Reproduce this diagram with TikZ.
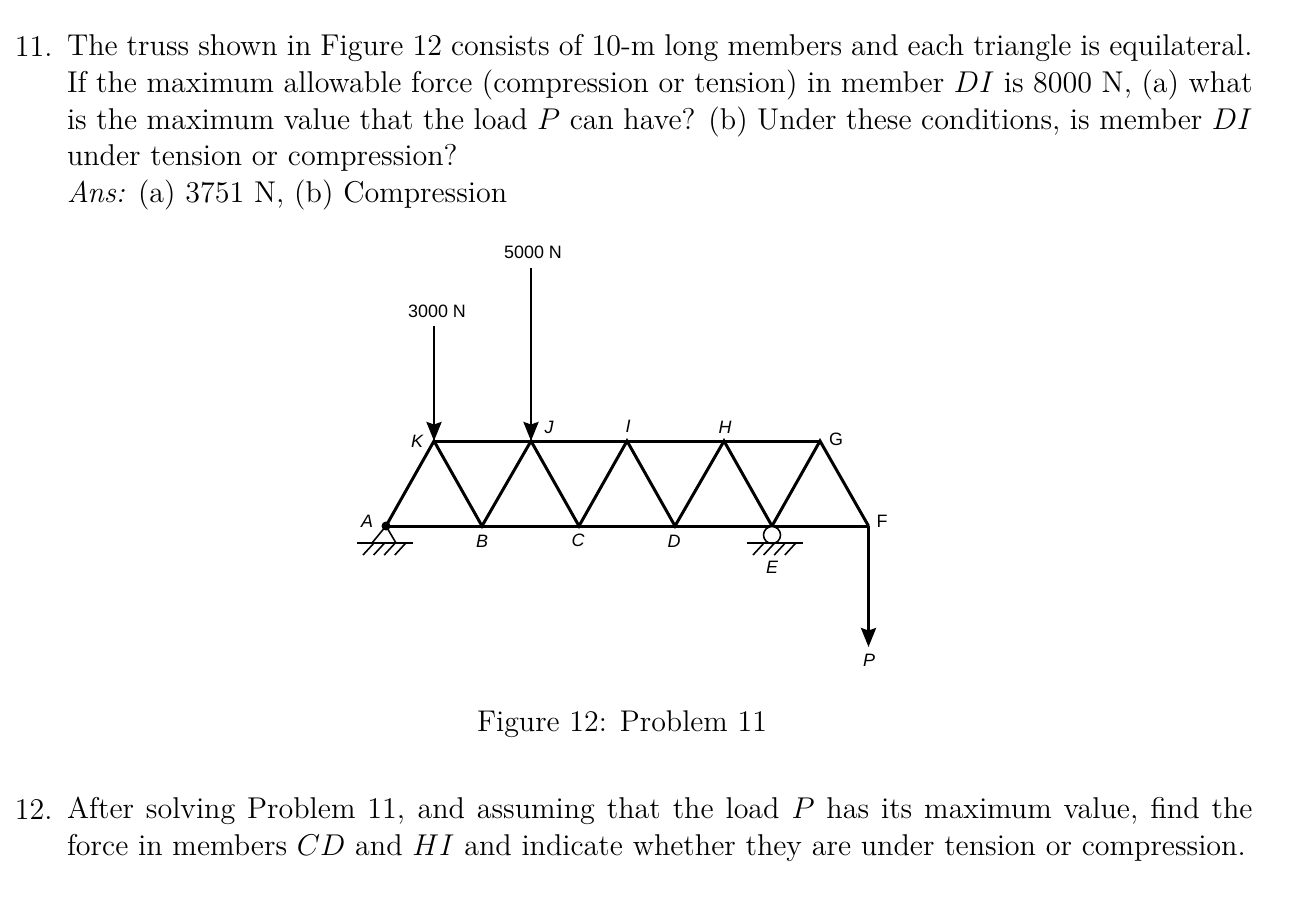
\documentclass[tikz,border=0pt]{standalone}
\usepackage{fontspec}
\usetikzlibrary{arrows.meta}
\newfontfamily\labelfont{Liberation Sans}
\tikzset{
    member/.style={line width=1.7pt},
    force/.style={line width=1.6pt,-{Stealth[length=3.8mm,width=3mm,inset=0.5mm]}},
    ground/.style={line width=0.9pt},
    joint/.style={inner sep=0pt,font=\labelfont\itshape\fontsize{10.2}{12}\selectfont},
    load/.style={inner sep=0pt,font=\labelfont\fontsize{10.2}{12}\selectfont},
    para/.style={inner sep=0pt,anchor=north west,scale=1.426,transform shape,text width=16.63cm,align=justify,font=\fontsize{12}{14.64}\selectfont},
    itemno/.style={inner sep=0pt,anchor=base east,scale=1.426,transform shape,font=\fontsize{12}{14.64}\selectfont}
}
\begin{document}
\begin{tikzpicture}[x=0.02cm,y=-0.02cm]
    \useasboundingbox (0,0) rectangle (1290,910);

    % Draw the text of problem 11
    \node[itemno] (no11) at (53,56) {11.};
    \node[para] (text11) at (66.5,34) {The truss shown in Figure 12 consists of 10-m long members and each triangle is equilateral.
    If the maximum allowable force (compression or tension) in member $DI$ is 8000 N, (a) what
    is the maximum value that the load $P$ can have? (b) Under these conditions, is member $DI$
    under tension or compression?\\
    \textit{Ans:} (a) 3751 N, (b) Compression};

    % Draw the joints of the truss
    \coordinate (A) at (386,526);
    \coordinate (B) at (482,526);
    \coordinate (C) at (579,526);
    \coordinate (D) at (675,526);
    \coordinate (E) at (772,526);
    \coordinate (F) at (868.5,526);
    \coordinate (K) at (434,441);
    \coordinate (J) at (531,441);
    \coordinate (I) at (627,441);
    \coordinate (H) at (724,441);
    \coordinate (G) at (820,441);

    % Draw the members
    \draw[member] (A) -- (F);
    \draw[member] (K) -- (G);
    \draw[member] (A) -- (K) -- (B) -- (J) -- (C) -- (I) -- (D) -- (H) -- (E) -- (G) -- (F);

    % Draw the pin support at A
    \draw[ground] (A) -- (372,543) (A) -- (396,543);
    \fill (A) circle (4.5);
    \draw[ground] (357,543) -- (413,543);
    \foreach \x in {0,1,2,3}
        \draw[ground] (363+10.6*\x,555) -- (374+10.6*\x,543);

    % Draw the roller support at E
    \draw[ground,fill=white] (772,535) circle (8.5);
    \draw[ground] (747,543) -- (803,543);
    \foreach \x in {0,1,2,3}
        \draw[ground] (753+10.6*\x,555) -- (764+10.6*\x,543);

    % Draw the loads
    \coordinate (top3000) at (434,326);
    \coordinate (top5000) at (531,268);
    \coordinate (endP) at (868.5,647);
    \draw[force] (top3000) -- (K);
    \draw[force] (top5000) -- (J);
    \draw[force] (F) -- (endP);

    % Draw the labels
    \node[load] (l3000) at (437,311) {3000 N};
    \node[load] (l5000) at (533,252) {5000 N};
    \node[joint] (lA) at (367,521) {A};
    \node[joint] (lB) at (482,541) {B};
    \node[joint] (lC) at (578,540) {C};
    \node[joint] (lD) at (674,541) {D};
    \node[joint] (lE) at (772,567) {E};
    \node[load] (lF) at (882,521) {F};
    \node[load] (lG) at (836,439) {G};
    \node[joint] (lH) at (725,427) {H};
    \node[joint] (lI) at (628,426) {I};
    \node[joint] (lJ) at (549,427) {J};
    \node[joint] (lK) at (417,441) {K};
    \node[joint] (lP) at (869,660) {P};

    % Draw the caption
    \node[inner sep=0pt,scale=1.42,transform shape,font=\fontsize{12}{14.64}\selectfont] (caption) at (622,724) {Figure 12: Problem 11};

    % Draw the text of problem 12
    \node[itemno] (no12) at (53,819) {12.};
    \node[para] (text12) at (66.5,797) {After solving Problem 11, and assuming that the load $P$ has its maximum value, find the
    force in members $CD$ and $HI$ and indicate whether they are under tension or compression.};
\end{tikzpicture}
\end{document}
